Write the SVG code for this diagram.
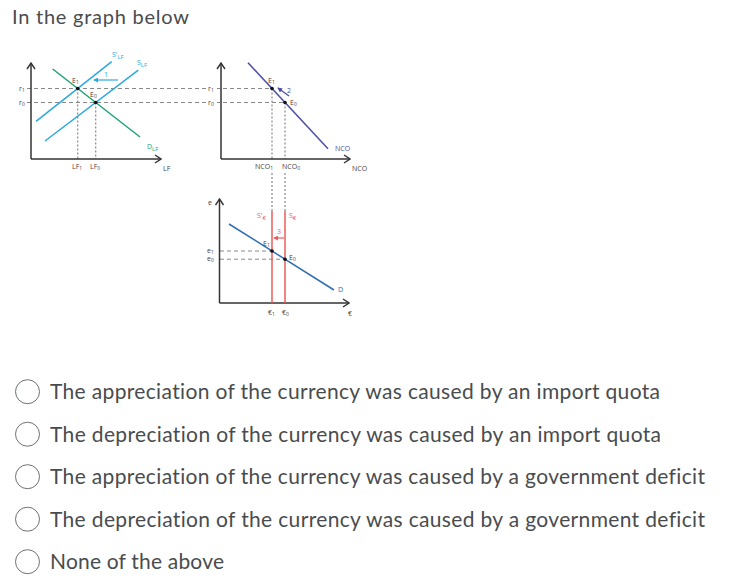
<svg xmlns="http://www.w3.org/2000/svg" width="751" height="583" viewBox="0 0 751 583">
<defs>
<marker id="ax" viewBox="0 0 8 10" refX="7" refY="5" markerWidth="8" markerHeight="10" markerUnits="userSpaceOnUse" orient="auto"><path d="M1,1 L7,5 L1,9" fill="none" stroke="#333" stroke-width="1.4"/></marker>
<marker id="hc" viewBox="0 0 6 6" refX="5" refY="3" markerWidth="5" markerHeight="5" markerUnits="userSpaceOnUse" orient="auto"><path d="M0,0 L6,3 L0,6z" fill="#29a9e1"/></marker>
<marker id="hv" viewBox="0 0 6 6" refX="5" refY="3" markerWidth="5" markerHeight="5" markerUnits="userSpaceOnUse" orient="auto"><path d="M0,0 L6,3 L0,6z" fill="#4b4fa6"/></marker>
<marker id="hr" viewBox="0 0 6 6" refX="5" refY="3" markerWidth="5" markerHeight="5" markerUnits="userSpaceOnUse" orient="auto"><path d="M0,0 L6,3 L0,6z" fill="#ef5b5b"/></marker>
</defs>
<style>
.q{font-family:Lato,"Open Sans",sans-serif;fill:#494c4e;font-variant-ligatures:none}
.t{font-family:Lato,"Open Sans",sans-serif;font-size:21px;fill:#494c4e;font-variant-ligatures:none}
.lb{font-family:"Open Sans","Liberation Sans",sans-serif;font-size:7px;fill:#444}
.ax{stroke:#333;stroke-width:1.5;fill:none}
.dash{stroke:#888;stroke-width:1;stroke-dasharray:4,3;fill:none}
.dot{stroke:#888;stroke-width:1.2;stroke-dasharray:2,2;fill:none}
.rb{fill:#fff;stroke:#6d7175;stroke-width:1}
.pt{fill:#111}
</style>
<rect width="751" height="583" fill="#fff"/>
<text class="q" x="12" y="24" font-size="20" textLength="177" lengthAdjust="spacing">In the graph below</text>

<g id="guides">
<line class="dash" x1="27" y1="88.5" x2="272" y2="88.5"/>
<line class="dash" x1="27" y1="102.5" x2="285" y2="102.5"/>
<line class="dot" x1="77.7" y1="88.5" x2="77.7" y2="159"/>
<line class="dot" x1="95.7" y1="102.5" x2="95.7" y2="159"/>
<line class="dot" x1="272" y1="88.5" x2="272" y2="159"/>
<line class="dot" x1="285" y1="102.5" x2="285" y2="159"/>
<line class="dot" x1="272" y1="173" x2="272" y2="211"/>
<line class="dot" x1="285" y1="173" x2="285" y2="211"/>
<line class="dash" x1="220" y1="251" x2="272" y2="251"/>
<line class="dash" x1="220" y1="259.2" x2="285" y2="259.2"/>
<rect x="207" y="84" width="10" height="9" fill="#fff"/>
<rect x="207" y="98" width="10" height="9" fill="#fff"/>
</g>

<g id="panel-lf">
<path class="ax" d="M31,159 L31,63" marker-end="url(#ax)"/>
<path class="ax" d="M31,159 L161,159" marker-end="url(#ax)"/>
<text class="lb" x="19" y="91">r<tspan font-size="5" dy="1">1</tspan></text>
<text class="lb" x="19" y="105">r<tspan font-size="5" dy="1">0</tspan></text>
<text class="lb" x="163" y="171" font-size="8">LF</text>
<text class="lb" x="72" y="169">LF<tspan font-size="5" dy="1">1</tspan></text>
<text class="lb" x="90" y="169">LF<tspan font-size="5" dy="1">0</tspan></text>
</g>
<g id="curve-dlf">
<line x1="52.7" y1="69" x2="140" y2="137" stroke="#1fa374" stroke-width="1.5"/>
<text class="lb" x="147" y="149" font-size="8" style="fill:#1fa374">D<tspan font-size="6" dy="1.5">LF</tspan></text>
</g>
<g id="curve-slf1">
<line x1="36" y1="121.4" x2="111.7" y2="61.6" stroke="#29a9e1" stroke-width="1.5"/>
<text class="lb" x="112" y="57" font-size="8" style="fill:#29a9e1">S'<tspan font-size="6" dy="1.5">LF</tspan></text>
</g>
<g id="curve-slf0">
<line x1="45" y1="141" x2="138.3" y2="70.1" stroke="#29a9e1" stroke-width="1.5"/>
<text class="lb" x="137" y="65" font-size="8" style="fill:#29a9e1">S<tspan font-size="6" dy="1.5">LF</tspan></text>
</g>
<g id="pts-lf">
<circle class="pt" cx="77.7" cy="88.5" r="1.8"/>
<circle class="pt" cx="95.7" cy="102.5" r="1.8"/>
<text class="lb" x="72" y="83">E<tspan font-size="5" dy="1">1</tspan></text>
<text class="lb" x="90" y="97">E<tspan font-size="5" dy="1">0</tspan></text>
</g>

<g id="panel-nco">
<path class="ax" d="M221,159 L221,63" marker-end="url(#ax)"/>
<path class="ax" d="M221,159 L350,159" marker-end="url(#ax)"/>
<text class="lb" x="208" y="91">r<tspan font-size="5" dy="1">1</tspan></text>
<text class="lb" x="208" y="105">r<tspan font-size="5" dy="1">0</tspan></text>
<text class="lb" x="352" y="171" font-size="8">NCO</text>
<text class="lb" x="255" y="169">NCO<tspan font-size="5" dy="1">1</tspan></text>
<text class="lb" x="282" y="169">NCO<tspan font-size="5" dy="1">0</tspan></text>
</g>
<g id="curve-nco">
<line x1="248" y1="62.7" x2="328" y2="148.8" stroke="#4b4fa6" stroke-width="1.5"/>
<text class="lb" x="335" y="151" font-size="8" style="fill:#4b4fa6">NCO</text>
</g>
<g id="pts-nco">
<circle class="pt" cx="272" cy="88.5" r="1.8"/>
<circle class="pt" cx="285" cy="102.5" r="1.8"/>
<text class="lb" x="268" y="83">E<tspan font-size="5" dy="1">1</tspan></text>
<text class="lb" x="290" y="105">E<tspan font-size="5" dy="1">0</tspan></text>
</g>

<g id="panel-euro">
<path class="ax" d="M219.5,303 L219.5,199" marker-end="url(#ax)"/>
<path class="ax" d="M219.5,303 L349,303" marker-end="url(#ax)"/>
<text class="lb" x="208" y="205" font-size="8">e</text>
<text class="lb" x="207" y="253">e<tspan font-size="5" dy="1">1</tspan></text>
<text class="lb" x="207" y="261">e<tspan font-size="5" dy="1">0</tspan></text>
<text class="lb" x="348" y="316" font-size="8">€</text>
<text class="lb" x="268" y="315">€<tspan font-size="5" dy="1">1</tspan></text>
<text class="lb" x="282" y="315">€<tspan font-size="5" dy="1">0</tspan></text>
</g>
<g id="curve-seur1">
<line x1="272" y1="211" x2="272" y2="303" stroke="#ef5b5b" stroke-width="1.5"/>
<text class="lb" x="257" y="218" font-size="8" style="fill:#ef5b5b">S'<tspan font-size="6" dy="1.5">€</tspan></text>
</g>
<g id="curve-seur0">
<line x1="285" y1="211" x2="285" y2="303" stroke="#ef5b5b" stroke-width="1.5"/>
<text class="lb" x="289" y="218" font-size="8" style="fill:#ef5b5b">S<tspan font-size="6" dy="1.5">€</tspan></text>
</g>
<g id="curve-d">
<line x1="229" y1="224" x2="334" y2="290" stroke="#2f6db3" stroke-width="1.5"/>
<text class="lb" x="338" y="292" font-size="8" style="fill:#2f6db3">D</text>
</g>
<g id="pts-euro">
<circle class="pt" cx="272" cy="251" r="1.8"/>
<circle class="pt" cx="285" cy="259.2" r="1.8"/>
<text class="lb" x="263" y="246">E<tspan font-size="5" dy="1">1</tspan></text>
<text class="lb" x="289" y="260">E<tspan font-size="5" dy="1">0</tspan></text>
</g>

<g id="connectors">
<line x1="118" y1="80" x2="94" y2="80" stroke="#29a9e1" stroke-width="1.2" marker-end="url(#hc)"/>
<text class="lb" x="104" y="77" style="fill:#29a9e1">1</text>
<line x1="289" y1="96" x2="278" y2="88" stroke="#4b4fa6" stroke-width="1.2" marker-end="url(#hv)"/>
<text class="lb" x="287" y="93" style="fill:#4b4fa6">2</text>
<line x1="284" y1="238" x2="274" y2="238" stroke="#ef5b5b" stroke-width="1.2" marker-end="url(#hr)"/>
<text class="lb" x="277" y="234" style="fill:#ef5b5b">3</text>
</g>

<g id="options">
<circle class="rb" cx="27.5" cy="391.7" r="12"/>
<text class="t" x="50" y="399" textLength="610" lengthAdjust="spacing">The appreciation of the currency was caused by an import quota</text>
<circle class="rb" cx="27.5" cy="434.2" r="12"/>
<text class="t" x="50" y="441.5" textLength="611" lengthAdjust="spacing">The depreciation of the currency was caused by an import quota</text>
<circle class="rb" cx="27.5" cy="476.7" r="12"/>
<text class="t" x="50" y="484" textLength="655" lengthAdjust="spacing">The appreciation of the currency was caused by a government deficit</text>
<circle class="rb" cx="27.5" cy="519.2" r="12"/>
<text class="t" x="50" y="526.5" textLength="655" lengthAdjust="spacing">The depreciation of the currency was caused by a government deficit</text>
<circle class="rb" cx="27.5" cy="561.7" r="12"/>
<text class="t" x="50" y="569" textLength="174" lengthAdjust="spacing">None of the above</text>
</g>
</svg>
